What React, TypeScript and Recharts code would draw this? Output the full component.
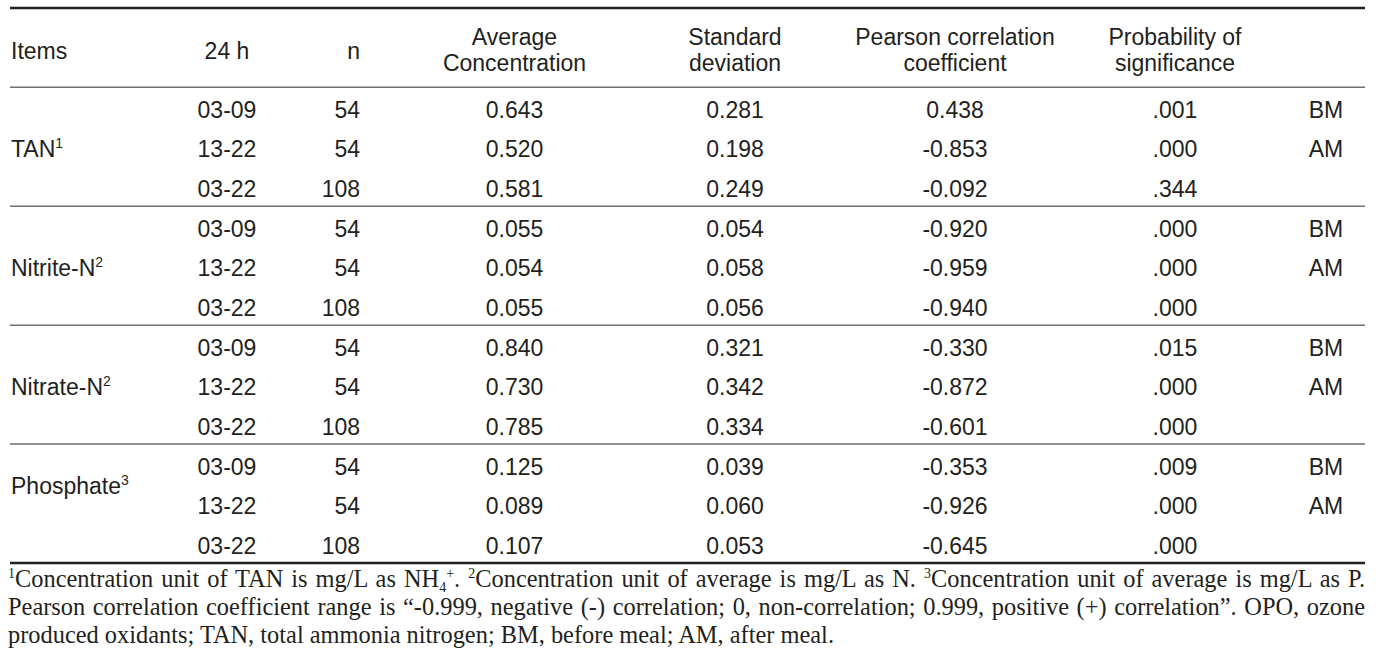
import React from 'react';
import { ScatterChart, Scatter, XAxis, YAxis, ReferenceLine } from 'recharts';

// table content
const ITEMS = ['TAN', 'Nitrite-N', 'Nitrate-N', 'Phosphate'];
const ITEM_NOTES = ['1', '2', '2', '3'];
const PERIODS = ['03-09', '13-22', '03-22', '03-09', '13-22', '03-22', '03-09', '13-22', '03-22', '03-09', '13-22', '03-22'];
const COUNTS = [54, 54, 108, 54, 54, 108, 54, 54, 108, 54, 54, 108];
const AVERAGE = [0.643, 0.52, 0.581, 0.055, 0.054, 0.055, 0.84, 0.73, 0.785, 0.125, 0.089, 0.107];
const STD_DEV = [0.281, 0.198, 0.249, 0.054, 0.058, 0.056, 0.321, 0.342, 0.334, 0.039, 0.06, 0.053];
const PEARSON = [0.438, -0.853, -0.092, -0.92, -0.959, -0.94, -0.33, -0.872, -0.601, -0.353, -0.926, -0.645];
const PROB = ['.001', '.000', '.344', '.000', '.000', '.000', '.015', '.000', '.000', '.009', '.000', '.000'];
const MEAL = ['BM', 'AM', '', 'BM', 'AM', '', 'BM', 'AM', '', 'BM', 'AM', ''];
const HEADERS = [
  ['Items'],
  ['24 h'],
  ['n'],
  ['Average', 'Concentration'],
  ['Standard', 'deviation'],
  ['Pearson correlation', 'coefficient'],
  ['Probability of', 'significance'],
  [''],
];

// layout
const W = 1384;
const H = 571;
const INK = '#231f20';
const RULE = '#6f6f6f';
const SANS = '"Liberation Sans", Arial, Helvetica, sans-serif';
const SERIF = '"Liberation Serif", "Times New Roman", serif';
const FS = 23;
const ROW_DY = 10.7;
const COL_X = [1, 217, 350, 504.5, 725, 945, 1165, 1316];
const COL_ANCHOR = ['start', 'middle', 'end', 'middle', 'middle', 'middle', 'middle', 'middle'];
const ITEM_ROW = [1.5, 1.5, 1.5, 1.0];

const fmt = (v: number) => v.toFixed(3);

const COLUMNS: string[][] = [
  PERIODS,
  COUNTS.map(String),
  AVERAGE.map(fmt),
  STD_DEV.map(fmt),
  PEARSON.map(fmt),
  PROB,
  MEAL,
];

const cellShape = (anchor: string) => (props: any) => {
  const { cx, cy, payload } = props;
  return (
    <text x={cx} y={cy + ROW_DY} textAnchor={anchor} fontFamily={SANS} fontSize={FS} fill={INK}>
      {payload.label}
      {payload.note ? (
        <tspan dy={-9} fontSize={14}>
          {payload.note}
        </tspan>
      ) : null}
    </text>
  );
};

const headerShape = (props: any) => {
  const { cx, cy, payload } = props;
  const lines: string[] = payload.lines;
  if (lines.length === 1) {
    return (
      <text x={cx} y={cy + 11.6} textAnchor={payload.anchor} fontFamily={SANS} fontSize={FS} fill={INK}>
        {lines[0]}
      </text>
    );
  }
  return (
    <text x={cx} y={cy - 2.4} textAnchor={payload.anchor} fontFamily={SANS} fontSize={FS} fill={INK}>
      <tspan x={cx}>{lines[0]}</tspan>
      <tspan x={cx} dy={26}>
        {lines[1]}
      </tspan>
    </text>
  );
};

const Sup = ({ children, top = -9 }: { children: React.ReactNode; top?: number }) => (
  <span style={{ fontSize: 14, position: 'relative', top, lineHeight: 0 }}>{children}</span>
);

export default function App() {
  const headerData = HEADERS.map((lines, i) => ({ x: COL_X[i], y: -1, lines, anchor: COL_ANCHOR[i] }));
  const itemData = ITEMS.map((label, g) => ({ x: COL_X[0], y: g * 3 + ITEM_ROW[g], label, note: ITEM_NOTES[g] }));

  const justify: React.CSSProperties = { textAlign: 'justify', textAlignLast: 'justify' };

  return (
    <div style={{ position: 'absolute', left: 0, top: 0, width: W, height: 665, background: '#fff' }}>
      <ScatterChart width={W} height={H} margin={{ top: 0, right: 19, bottom: 0, left: 10 }}>
        <XAxis type="number" dataKey="x" domain={[0, 1355]} hide />
        <YAxis type="number" dataKey="y" domain={[-2.2, 12.2]} reversed hide />
        <ReferenceLine y={-2} stroke={INK} strokeWidth={2.5} />
        <ReferenceLine y={0} stroke={RULE} strokeWidth={1.5} />
        <ReferenceLine y={3} stroke={RULE} strokeWidth={1.5} />
        <ReferenceLine y={6} stroke={RULE} strokeWidth={1.5} />
        <ReferenceLine y={9} stroke={RULE} strokeWidth={1.5} />
        <ReferenceLine y={12} stroke={INK} strokeWidth={2.5} />
        <Scatter data={headerData} shape={headerShape} isAnimationActive={false} />
        <Scatter data={itemData} shape={cellShape('start')} isAnimationActive={false} />
        {COLUMNS.map((values, c) => (
          <Scatter
            key={c}
            data={values.map((label, i) => ({ x: COL_X[c + 1], y: i + 0.5, label }))}
            shape={cellShape(COL_ANCHOR[c + 1])}
            isAnimationActive={false}
          />
        ))}
      </ScatterChart>
      <div
        style={{
          position: 'absolute',
          left: 8,
          top: 564.5,
          width: 1357,
          fontFamily: SERIF,
          fontSize: 24.4,
          lineHeight: '28px',
          color: INK,
        }}
      >
        <div style={justify}>
          <Sup>1</Sup>Concentration unit of TAN is mg/L as NH<Sup top={5}>4</Sup>
          <Sup>+</Sup>. <Sup>2</Sup>Concentration unit of average is mg/L as N. <Sup>3</Sup>Concentration unit of
          average is mg/L as P.
        </div>
        <div style={justify}>
          Pearson correlation coefficient range is “-0.999, negative (-) correlation; 0, non-correlation; 0.999,
          positive (+) correlation”. OPO, ozone
        </div>
        <div>produced oxidants; TAN, total ammonia nitrogen; BM, before meal; AM, after meal.</div>
      </div>
    </div>
  );
}
